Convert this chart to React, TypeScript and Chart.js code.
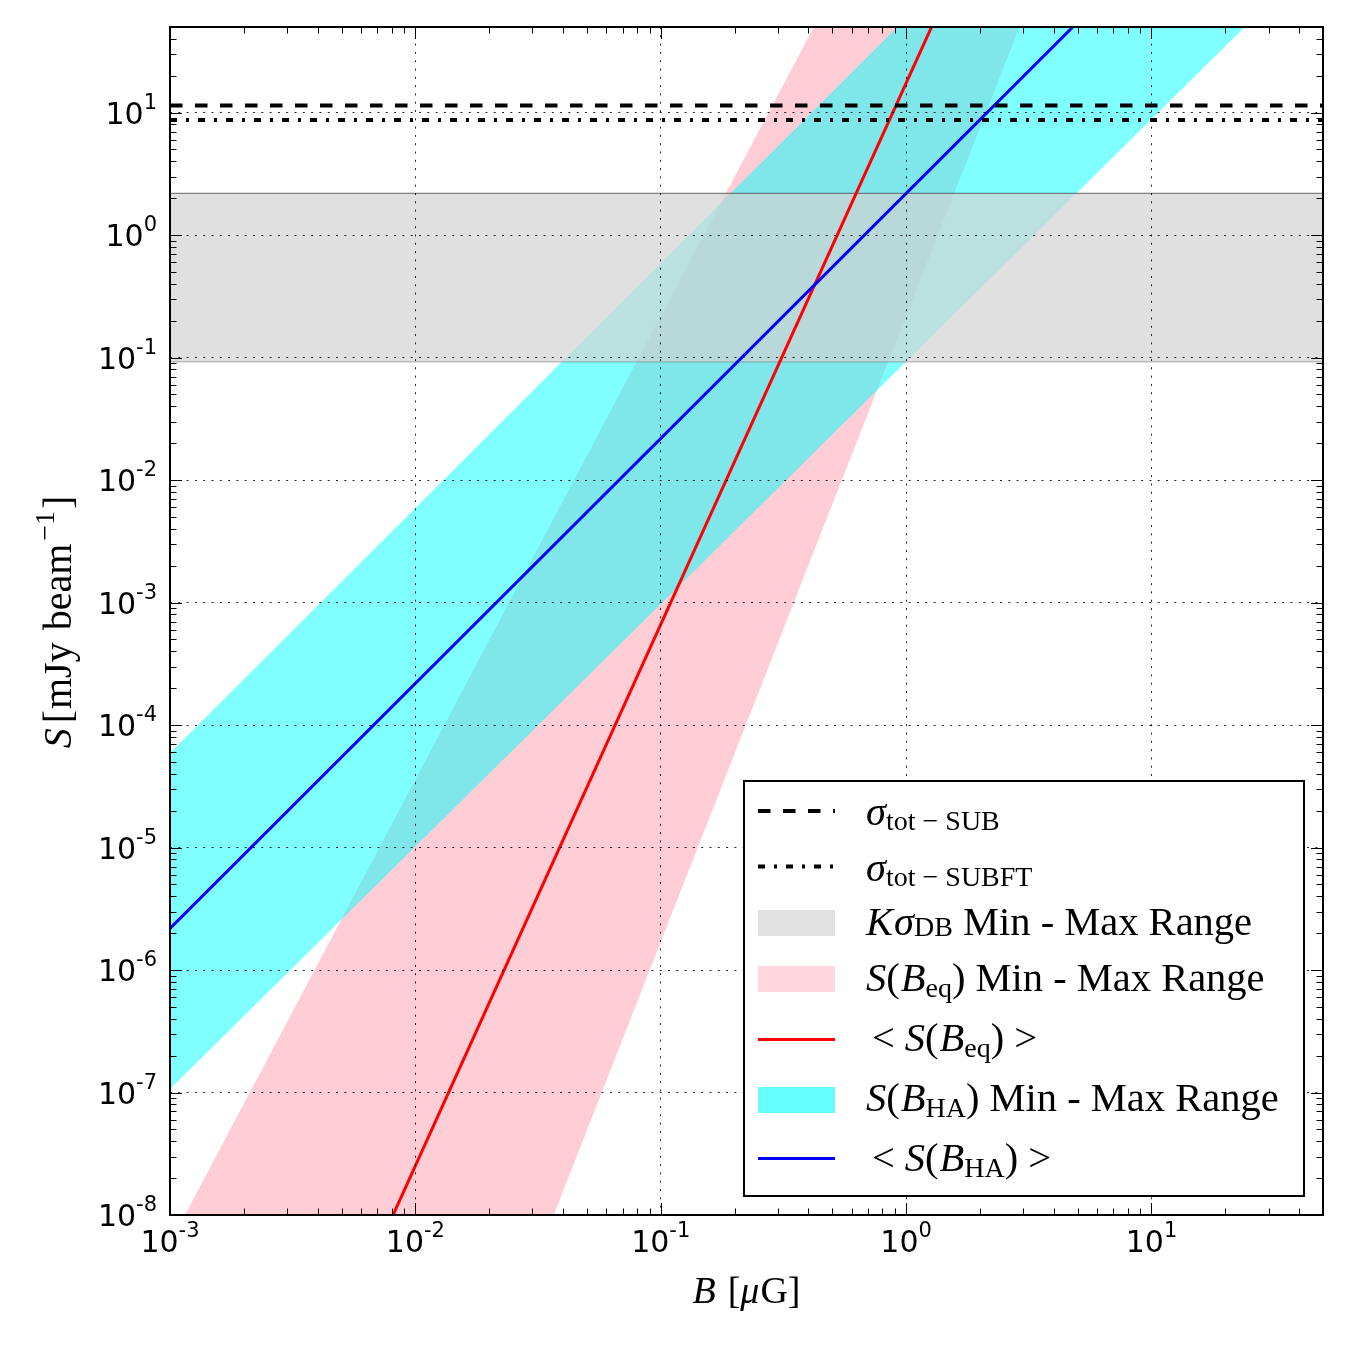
import React, { useEffect, useRef } from 'react';
import { Chart, registerables } from 'chart.js';

Chart.register(...registerables);

// ---- data ----
const B_ENDPOINTS = [1e-3, 50];
const S_EQ_MEAN = [9.6e-13, 5.62e8];
const S_EQ_MIN = [1.02e-16, 1.05e8];
const S_EQ_MAX = [5.89e-9, 3.55e9];
const S_HA_MEAN = [2.19e-6, 5.47e3];
const S_HA_MIN = [1.07e-7, 2.14e2];
const S_HA_MAX = [5.9e-5, 1.476e5];
const K_SIGMA_DB_RANGE = [0.0925, 2.19];
const SIGMA_TOT_SUB = 11.45;
const SIGMA_TOT_SUBFT = 8.69;

const X_TICKS = [1e-3, 1e-2, 1e-1, 1, 10];
const X_TICK_EXP = ['-3', '-2', '-1', '0', '1'];
const Y_TICKS = [1e-8, 1e-7, 1e-6, 1e-5, 1e-4, 1e-3, 1e-2, 1e-1, 1, 10];
const Y_TICK_EXP = ['-8', '-7', '-6', '-5', '-4', '-3', '-2', '-1', '0', '1'];
const X_MIN = 1e-3;
const X_MAX = 50;
const Y_MIN = 1e-8;
const Y_MAX = 50;

// ---- styles ----
const PINK = 'rgba(255,192,203,0.8)';
const CYAN = 'rgba(0,255,255,0.5)';
const GRAY = 'rgba(211,211,211,0.7)';
const GRAY_EDGE = 'rgba(90,90,90,0.75)';
const SERIF = '"Liberation Serif", "DejaVu Serif", serif';
const SANS = '"DejaVu Sans", sans-serif';
const fR = (s: number) => `${s}px ${SERIF}`;
const fI = (s: number) => `italic ${s}px ${SERIF}`;
const DASH = [12.5, 12.5];
const DASHDOT = [7, 9, 3, 9];

type Run = { t: string; f: string; dy?: number; gap?: number };

function drawRuns(ctx: CanvasRenderingContext2D, runs: Run[], x: number, y: number, align: 'left' | 'center' | 'right') {
  const widths = runs.map((r) => {
    ctx.font = r.f;
    return ctx.measureText(r.t).width + (r.gap || 0);
  });
  const total = widths.reduce((a, b) => a + b, 0);
  let cx = align === 'left' ? x : align === 'center' ? x - total / 2 : x - total;
  ctx.textAlign = 'left';
  ctx.textBaseline = 'alphabetic';
  runs.forEach((r, i) => {
    ctx.font = r.f;
    ctx.fillText(r.t, cx, y + (r.dy || 0));
    cx += widths[i];
  });
}

const pts = (ys: number[]) => B_ENDPOINTS.map((x, i) => ({ x, y: ys[i] }));
const flat = (v: number) => B_ENDPOINTS.map((x) => ({ x, y: v }));

const decorPlugin = {
  id: 'decor',
  afterDraw(chart: any) {
    const ctx: CanvasRenderingContext2D = chart.ctx;
    const xs = chart.scales.x;
    const ys = chart.scales.y;
    const { left, right, top, bottom } = chart.chartArea;
    ctx.save();

    // tick marks (inward, all four sides)
    ctx.strokeStyle = '#000';
    ctx.lineWidth = 1;
    const MAJ = 12;
    const MIN = 6.5;
    const xMinor: number[] = [];
    for (let k = -3; k <= 1; k++) for (let m = 2; m <= 9; m++) { const v = m * Math.pow(10, k); if (v > X_MIN && v < X_MAX) xMinor.push(v); }
    const yMinor: number[] = [];
    for (let k = -8; k <= 1; k++) for (let m = 2; m <= 9; m++) { const v = m * Math.pow(10, k); if (v > Y_MIN && v < Y_MAX) yMinor.push(v); }
    ctx.beginPath();
    const xt = (v: number, len: number) => {
      const px = Math.round(xs.getPixelForValue(v)) + 0.5;
      ctx.moveTo(px, bottom); ctx.lineTo(px, bottom - len);
      ctx.moveTo(px, top); ctx.lineTo(px, top + len);
    };
    const yt = (v: number, len: number) => {
      const py = Math.round(ys.getPixelForValue(v)) + 0.5;
      ctx.moveTo(left, py); ctx.lineTo(left + len, py);
      ctx.moveTo(right, py); ctx.lineTo(right - len, py);
    };
    X_TICKS.forEach((v) => xt(v, MAJ));
    xMinor.forEach((v) => xt(v, MIN));
    Y_TICKS.forEach((v) => yt(v, MAJ));
    yMinor.forEach((v) => yt(v, MIN));
    ctx.stroke();

    // frame
    ctx.lineWidth = 2;
    ctx.strokeRect(left, top, right - left, bottom - top);

    // tick labels
    ctx.fillStyle = '#000';
    X_TICKS.forEach((v, i) => {
      const px = xs.getPixelForValue(v);
      drawRuns(ctx, [
        { t: '10', f: `30px ${SANS}` },
        { t: X_TICK_EXP[i], f: `21px ${SANS}`, dy: -15 },
      ], px, bottom + 37, 'center');
    });
    Y_TICKS.forEach((v, i) => {
      const py = ys.getPixelForValue(v);
      drawRuns(ctx, [
        { t: '10', f: `30px ${SANS}` },
        { t: Y_TICK_EXP[i], f: `21px ${SANS}`, dy: -15 },
      ], left - 13, py + 11, 'right');
    });

    // axis titles
    drawRuns(ctx, [
      { t: 'B', f: fI(38), gap: 12 },
      { t: '[', f: fR(38) },
      { t: 'μ', f: fI(38), gap: 1 },
      { t: 'G', f: fR(38) },
      { t: ']', f: fR(38) },
    ], (left + right) / 2, 1303, 'center');

    ctx.save();
    ctx.translate(71, (top + bottom) / 2 + 1);
    ctx.rotate(-Math.PI / 2);
    drawRuns(ctx, [
      { t: 'S', f: fI(40), gap: 5 },
      { t: '[', f: fR(40), gap: 1 },
      { t: 'mJy', f: fR(40), gap: 12 },
      { t: 'beam', f: fR(40), gap: 3 },
      { t: '−1', f: fR(28), dy: -17, gap: 2 },
      { t: ']', f: fR(40) },
    ], 0, 0, 'center');
    ctx.restore();

    // legend
    const LX = 744, LY = 781, LW = 560, LH = 415;
    ctx.fillStyle = '#fff';
    ctx.fillRect(LX, LY, LW, LH);
    ctx.strokeStyle = '#000';
    ctx.lineWidth = 2;
    ctx.strokeRect(LX, LY, LW, LH);

    const hx0 = 758, hx1 = 835;
    const hline = (y: number, color: string, w: number, dash: number[]) => {
      ctx.save();
      ctx.strokeStyle = color;
      ctx.lineWidth = w;
      ctx.setLineDash(dash);
      ctx.beginPath();
      ctx.moveTo(hx0, y);
      ctx.lineTo(hx1, y);
      ctx.stroke();
      ctx.restore();
    };
    hline(811, '#000', 4, DASH);
    hline(866.5, '#000', 4, DASHDOT);
    ctx.fillStyle = 'rgb(225,225,225)';
    ctx.fillRect(hx0, 910, hx1 - hx0, 26);
    ctx.fillStyle = 'rgb(255,214,221)';
    ctx.fillRect(hx0, 966, hx1 - hx0, 26);
    hline(1039.5, '#ff0000', 3, []);
    ctx.fillStyle = 'rgb(102,255,255)';
    ctx.fillRect(hx0, 1087, hx1 - hx0, 26);
    hline(1158.5, '#0000ff', 3, []);

    ctx.fillStyle = '#000';
    const TX = 866;
    const M = 40.5;
    const SUB = 28;
    drawRuns(ctx, [
      { t: 'σ', f: fI(M) },
      { t: 'tot − SUB', f: fR(SUB), dy: 5 },
    ], TX, 825, 'left');
    drawRuns(ctx, [
      { t: 'σ', f: fI(M) },
      { t: 'tot − SUBFT', f: fR(SUB), dy: 5 },
    ], TX, 881, 'left');
    drawRuns(ctx, [
      { t: 'K', f: fI(M), gap: 1 },
      { t: 'σ', f: fI(M) },
      { t: 'DB', f: fR(SUB), dy: 1 },
      { t: ' Min - Max Range', f: fR(M) },
    ], TX, 935, 'left');
    drawRuns(ctx, [
      { t: 'S', f: fI(M) },
      { t: '(', f: fR(M), gap: 1 },
      { t: 'B', f: fI(M) },
      { t: 'eq', f: fR(SUB), dy: 6 },
      { t: ')', f: fR(M) },
      { t: ' Min - Max Range', f: fR(M) },
    ], TX, 991, 'left');
    drawRuns(ctx, [
      { t: '<', f: fR(M), gap: 10 },
      { t: 'S', f: fI(M) },
      { t: '(', f: fR(M), gap: 1 },
      { t: 'B', f: fI(M) },
      { t: 'eq', f: fR(SUB), dy: 6 },
      { t: ')', f: fR(M), gap: 10 },
      { t: '>', f: fR(M) },
    ], TX + 6, 1051, 'left');
    drawRuns(ctx, [
      { t: 'S', f: fI(M) },
      { t: '(', f: fR(M), gap: 1 },
      { t: 'B', f: fI(M) },
      { t: 'HA', f: fR(SUB), dy: 6 },
      { t: ')', f: fR(M) },
      { t: ' Min - Max Range', f: fR(M) },
    ], TX, 1111, 'left');
    drawRuns(ctx, [
      { t: '<', f: fR(M), gap: 10 },
      { t: 'S', f: fI(M) },
      { t: '(', f: fR(M), gap: 1 },
      { t: 'B', f: fI(M) },
      { t: 'HA', f: fR(SUB), dy: 6 },
      { t: ')', f: fR(M), gap: 10 },
      { t: '>', f: fR(M) },
    ], TX + 6, 1171, 'left');

    ctx.restore();
  },
};

const base = { pointRadius: 0, pointHoverRadius: 0, tension: 0 };
const NONE = 'rgba(0,0,0,0)';

export default function App() {
  const ref = useRef<HTMLCanvasElement>(null);
  useEffect(() => {
    if (!ref.current) return;
    const chart = new Chart(ref.current, {
      type: 'line',
      data: {
        datasets: [
          { ...base, label: 'S(B_eq) max', data: pts(S_EQ_MAX), fill: 1, backgroundColor: PINK, borderColor: NONE, borderWidth: 0, order: 10 },
          { ...base, label: 'S(B_eq) min', data: pts(S_EQ_MIN), fill: false, borderColor: NONE, borderWidth: 0, order: 10 },
          { ...base, label: 'S(B_HA) max', data: pts(S_HA_MAX), fill: 3, backgroundColor: CYAN, borderColor: NONE, borderWidth: 0, order: 8 },
          { ...base, label: 'S(B_HA) min', data: pts(S_HA_MIN), fill: false, borderColor: NONE, borderWidth: 0, order: 8 },
          { ...base, label: 'K sigma_DB max', data: flat(K_SIGMA_DB_RANGE[1]), fill: 5, backgroundColor: GRAY, borderColor: GRAY_EDGE, borderWidth: 1.2, order: 6 },
          { ...base, label: 'K sigma_DB min', data: flat(K_SIGMA_DB_RANGE[0]), fill: false, borderColor: GRAY_EDGE, borderWidth: 1.2, order: 6 },
          { ...base, label: '<S(B_eq)>', data: pts(S_EQ_MEAN), fill: false, borderColor: '#ff0000', borderWidth: 3, order: 4 },
          { ...base, label: '<S(B_HA)>', data: pts(S_HA_MEAN), fill: false, borderColor: '#0000ff', borderWidth: 3, order: 3 },
          { ...base, label: 'sigma_tot-SUB', data: flat(SIGMA_TOT_SUB), fill: false, borderColor: '#000', borderWidth: 4, borderDash: DASH, borderCapStyle: 'butt', order: 2 },
          { ...base, label: 'sigma_tot-SUBFT', data: flat(SIGMA_TOT_SUBFT), fill: false, borderColor: '#000', borderWidth: 4, borderDash: DASHDOT, borderCapStyle: 'butt', order: 2 },
        ],
      },
      options: {
        animation: false,
        responsive: false,
        maintainAspectRatio: false,
        events: [],
        layout: { padding: { left: 170, top: 27, right: 27, bottom: 135 } },
        plugins: { legend: { display: false }, tooltip: { enabled: false }, title: { display: false } },
        scales: {
          x: {
            type: 'logarithmic',
            min: X_MIN,
            max: X_MAX,
            afterBuildTicks: (s: any) => { s.ticks = X_TICKS.map((v) => ({ value: v, major: true })); },
            ticks: { display: false },
            grid: { color: 'rgba(0,0,0,0.85)', lineWidth: 1, drawTicks: false, z: 1 },
            border: { display: false, dash: [2, 6.3] },
            title: { display: false },
          },
          y: {
            type: 'logarithmic',
            min: Y_MIN,
            max: Y_MAX,
            afterBuildTicks: (s: any) => { s.ticks = Y_TICKS.map((v) => ({ value: v, major: true })); },
            ticks: { display: false },
            grid: { color: 'rgba(0,0,0,0.85)', lineWidth: 1, drawTicks: false, z: 1 },
            border: { display: false, dash: [2, 6.3] },
            title: { display: false },
          },
        },
      } as any,
      plugins: [decorPlugin],
    });
    return () => chart.destroy();
  }, []);
  return (
    <div style={{ position: 'absolute', left: 0, top: 0, width: 1350, height: 1350, background: '#fff' }}>
      <canvas ref={ref} width={1350} height={1350} style={{ display: 'block', width: 1350, height: 1350 }} />
    </div>
  );
}
